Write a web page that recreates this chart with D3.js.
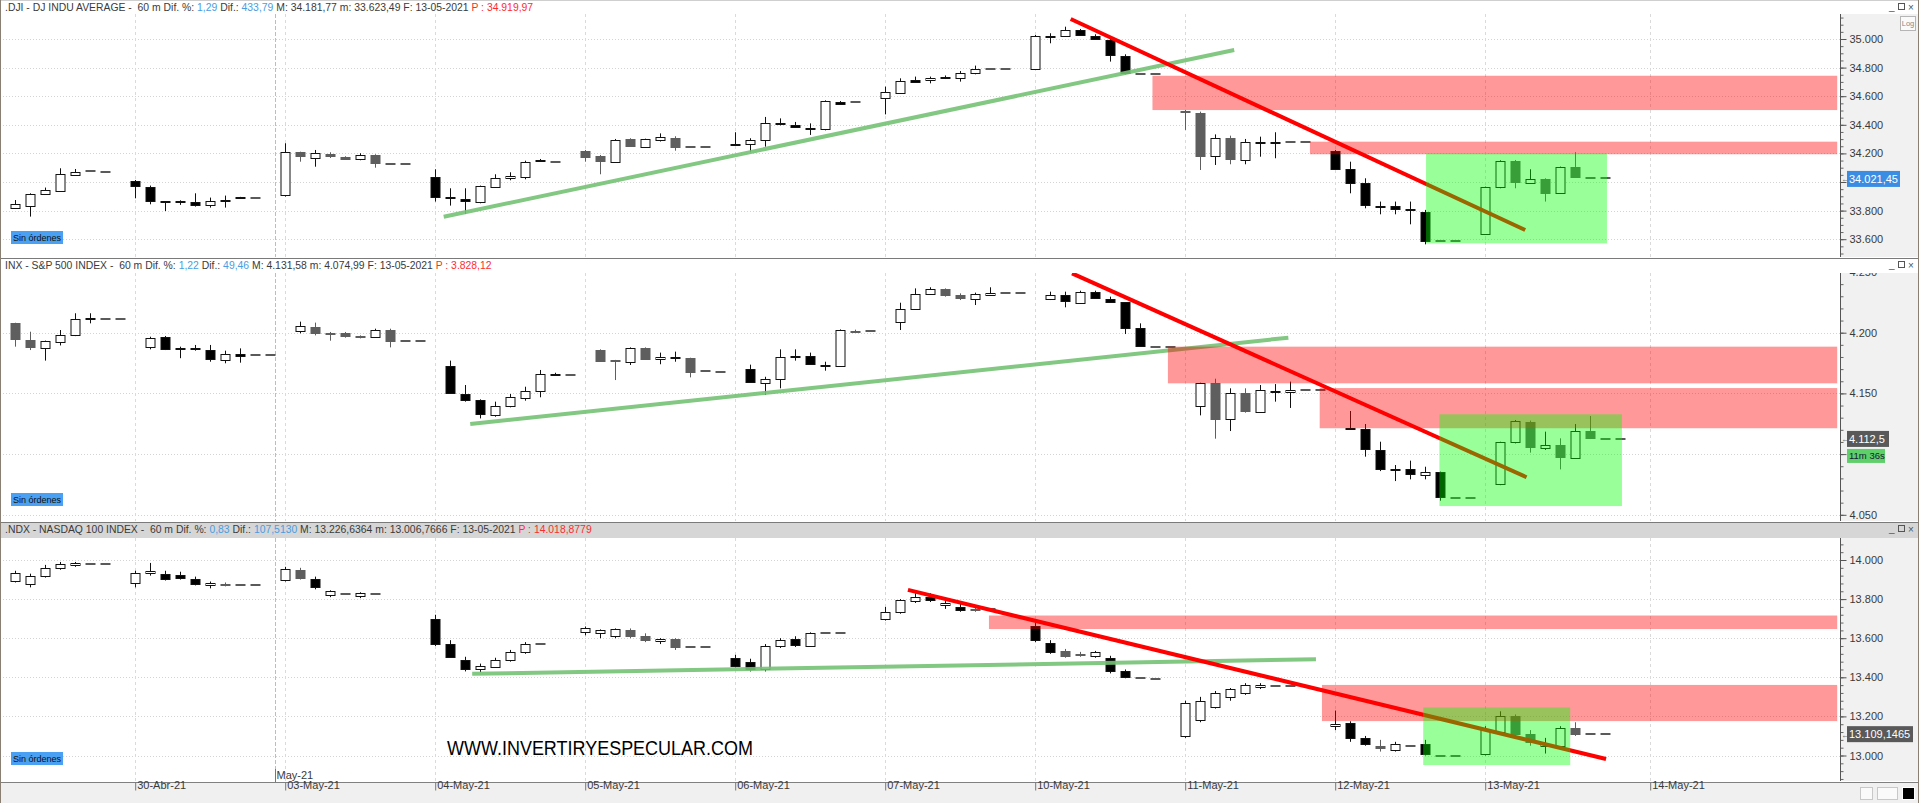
<!DOCTYPE html>
<html><head><meta charset="utf-8">
<script src="https://cdn.jsdelivr.net/npm/d3@7"></script>
<style>
body{margin:0;background:#fff;overflow:hidden}
svg text{font-family:"Liberation Sans",Arial,sans-serif}
</style></head>
<body><svg id="c" width="1919" height="803"></svg>
<script>
// ---------------- DATA ----------------
const dayLabels = ['30-Abr-21','03-May-21','04-May-21','05-May-21','06-May-21','07-May-21','10-May-21','11-May-21','12-May-21','13-May-21','14-May-21'];
const daySlots  = [10,20,30,40,50,60,70,80,90,100,111];
const monthLabel = 'May-21';
const monthSlot = 19.35;

// headers: [text, colourKey]
const djiHeader = [['.DJI - DJ INDU AVERAGE -  60 m Dif. %: ','t'],['1,29','b'],[' Dif.: ','t'],['433,79','b'],[' M: 34.181,77 m: 33.623,49 F: 13-05-2021 ','t'],['P : 34.919,97','r']];
const spxHeader = [['INX - S&P 500 INDEX -  60 m Dif. %: ','t'],['1,22','b'],[' Dif.: ','t'],['49,46','b'],[' M: 4.131,58 m: 4.074,99 F: 13-05-2021 ','t'],['P : 3.828,12','r']];
const ndxHeader = [['.NDX - NASDAQ 100 INDEX -  60 m Dif. %: ','t'],['0,83','b'],[' Dif.: ','t'],['107,5130','b'],[' M: 13.226,6364 m: 13.006,7666 F: 13-05-2021 ','t'],['P : 14.018,8779','r']];

// candles: [bar index, open, high, low, close, kind]  kind: w=up(hollow) b=down(black) g=down(grey) d=flat
const djiCandles = [
[2,33821,33874,33816,33844,'w'],[3,33835,33921,33758,33916,'w'],[4,33914,33961,33909,33944,'w'],[5,33937,34096,33933,34054,'w'],[6,34049,34091,34044,34072,'w'],[7,34077,34077,34077,34077,'d'],[8,34072,34072,34072,34072,'d'],
[10,34005,34014,33886,33972,'b'],[11,33968,33975,33844,33867,'b'],[12,33865,33867,33797,33862,'b'],[13,33864,33872,33840,33862,'b'],[14,33858,33921,33828,33837,'b'],[15,33839,33891,33821,33867,'w'],[16,33872,33905,33821,33875,'w'],[17,33896,33896,33890,33890,'b'],[18,33886,33886,33886,33886,'d'],
[20,33909,34271,33898,34208,'w'],[21,34208,34212,34142,34180,'g'],[22,34170,34224,34107,34201,'w'],[23,34198,34208,34168,34180,'g'],[24,34175,34180,34156,34163,'g'],[25,34159,34201,34152,34189,'w'],[26,34187,34194,34100,34131,'g'],[27,34126,34126,34126,34126,'d'],[28,34126,34126,34126,34126,'d'],
[30,34035,34089,33863,33893,'b'],[31,33893,33956,33835,33886,'b'],[32,33881,33956,33776,33867,'b'],[33,33858,33975,33851,33970,'w'],[34,33965,34054,33960,34028,'w'],[35,34026,34068,34012,34040,'w'],[36,34037,34149,34019,34142,'w'],[37,34154,34161,34142,34147,'b'],[38,34142,34142,34142,34142,'d'],
[40,34217,34224,34142,34177,'g'],[41,34182,34189,34054,34149,'g'],[42,34142,34301,34138,34296,'w'],[43,34299,34306,34245,34252,'g'],[44,34245,34303,34240,34299,'w'],[45,34294,34340,34283,34313,'w'],[46,34310,34320,34219,34243,'g'],[47,34243,34243,34243,34243,'d'],[48,34243,34243,34243,34243,'d'],
[50,34266,34348,34259,34259,'b'],[51,34264,34306,34208,34294,'w'],[52,34292,34455,34247,34410,'w'],[53,34415,34445,34396,34403,'b'],[54,34401,34420,34380,34383,'b'],[55,34376,34410,34329,34373,'b'],[56,34368,34571,34361,34567,'w'],[57,34562,34566,34545,34548,'b'],[58,34562,34562,34562,34562,'d'],
[60,34585,34667,34473,34627,'w'],[61,34625,34725,34620,34706,'w'],[62,34713,34737,34697,34702,'b'],[63,34713,34737,34690,34730,'w'],[64,34731,34745,34720,34729,'b'],[65,34725,34776,34702,34760,'w'],[66,34760,34814,34753,34790,'w'],[67,34788,34788,34788,34788,'d'],[68,34788,34788,34788,34788,'d'],
[70,34790,35028,34783,35021,'w'],[71,35020,35040,34970,35022,'w'],[72,35021,35086,35016,35063,'w'],[73,35063,35070,35023,35028,'b'],[74,35023,35033,34998,35000,'b'],[75,34993,35000,34842,34888,'b'],[76,34884,34893,34753,34760,'b'],[77,34755,34755,34755,34755,'d'],[78,34755,34755,34755,34755,'d'],
[80,34497,34504,34364,34487,'g'],[81,34485,34492,34084,34184,'g'],[82,34180,34333,34119,34310,'w'],[83,34310,34324,34124,34161,'g'],[84,34154,34301,34124,34282,'w'],[85,34279,34317,34177,34281,'w'],[86,34277,34348,34166,34279,'w'],[87,34278,34278,34278,34278,'d'],[88,34278,34278,34278,34278,'d'],
[90,34217,34224,34084,34089,'b'],[91,34089,34142,33921,33996,'b'],[92,33991,34026,33816,33837,'b'],[93,33832,33863,33774,33829,'b'],[94,33835,33863,33774,33811,'b'],[95,33808,33863,33704,33806,'b'],[96,33793,33805,33564,33590,'b'],[97,33590,33590,33590,33590,'d'],[98,33590,33590,33590,33590,'d'],
[100,33634,33968,33630,33963,'w'],[101,33963,34152,33956,34147,'w'],[102,34147,34154,33956,34002,'g'],[103,33996,34089,33991,34019,'w'],[104,34019,34026,33863,33926,'g'],[105,33921,34108,33916,34103,'w'],[106,34103,34208,34033,34038,'g'],[107,34028,34028,34028,34028,'d'],[108,34028,34028,34028,34028,'d']
];
const spxCandles = [
[2,4207.7,4208.2,4188.5,4194.5,'g'],[3,4194,4200.8,4185.7,4188.5,'g'],[4,4187.1,4193.5,4177,4192.9,'w'],[5,4192.3,4202.2,4189.5,4197.8,'w'],[6,4197.8,4216,4197.2,4211.6,'w'],[7,4211.4,4216,4207.7,4211.8,'w'],[8,4211.6,4211.6,4211.6,4211.6,'d'],[9,4211.6,4211.6,4211.6,4211.6,'d'],
[11,4188.5,4196.7,4186.3,4195.9,'w'],[12,4196.7,4197.3,4185.7,4186.8,'b'],[13,4187.3,4188.5,4179,4186.8,'b'],[14,4187.3,4189.9,4185.2,4186.8,'b'],[15,4185.7,4189.9,4176.1,4178.6,'b'],[16,4177.5,4185.2,4174.8,4182.2,'w'],[17,4182.2,4187.1,4175.3,4180.8,'b'],[18,4181.6,4181.6,4181.6,4181.6,'d'],[19,4181.4,4181.4,4181.4,4181.4,'d'],
[21,4201.7,4209.1,4199.5,4205.5,'w'],[22,4204.4,4208.3,4197.8,4199.5,'g'],[23,4199.9,4200.6,4193.4,4199.7,'g'],[24,4200,4200.6,4195.9,4197.3,'g'],[25,4196.9,4197.8,4195.3,4196.7,'g'],[26,4196.7,4203.3,4196.2,4202.2,'w'],[27,4202.2,4203.3,4187.9,4193.4,'g'],[28,4192.9,4192.9,4192.9,4192.9,'d'],[29,4192.9,4192.9,4192.9,4192.9,'d'],
[31,4172.6,4177,4149.5,4150,'b'],[32,4149.5,4156.9,4143.2,4144.6,'b'],[33,4144.6,4145.1,4129.4,4133,'b'],[34,4131.9,4143.2,4130.8,4139.6,'w'],[35,4139.6,4149.5,4138.5,4146.8,'w'],[36,4146.5,4155.5,4144,4152.2,'w'],[37,4152.2,4169.3,4146.8,4165.7,'w'],[38,4166,4167,4165,4165.4,'b'],[39,4164.9,4164.9,4164.9,4164.9,'d'],
[41,4185.5,4186.3,4176.1,4177,'g'],[42,4177.3,4177.6,4161,4177,'g'],[43,4175.9,4187.9,4173.4,4187.4,'w'],[44,4187.4,4187.9,4178,4178.6,'g'],[45,4178.1,4183.6,4174,4180.3,'w'],[46,4179.5,4184.4,4176.1,4179.9,'w'],[47,4178.9,4179.4,4163.2,4167.9,'g'],[48,4168.4,4168.4,4168.4,4168.4,'d'],[49,4167.9,4167.9,4167.9,4167.9,'d'],
[51,4169.8,4173.7,4159,4159.4,'b'],[52,4158.8,4163.7,4148.7,4162.1,'w'],[53,4162.1,4186.3,4154.2,4179.7,'w'],[54,4180.5,4186.3,4177,4179.9,'b'],[55,4180.8,4183.6,4173.4,4174,'b'],[56,4173.4,4176.1,4168.7,4173.1,'b'],[57,4172.6,4202.7,4172,4202.2,'w'],[58,4201.7,4202.5,4199.8,4200.3,'g'],[59,4201.7,4201.7,4201.7,4201.7,'d'],
[61,4209.1,4224.7,4202.2,4219.2,'w'],[62,4219.2,4236.5,4218.7,4231.9,'w'],[63,4231.9,4237.4,4231.3,4236,'w'],[64,4236,4236.5,4229.7,4231,'g'],[65,4231,4232.4,4226.9,4228.6,'g'],[66,4227.5,4233,4222.8,4231.9,'w'],[67,4231.3,4237.4,4230.8,4233,'w'],[68,4232.4,4232.4,4232.4,4232.4,'d'],[69,4232.4,4232.4,4232.4,4232.4,'d'],
[71,4228,4233.8,4226.9,4230.8,'w'],[72,4230.8,4233.8,4220.9,4225.8,'b'],[73,4224.7,4234.6,4224.2,4233.5,'w'],[74,4233.5,4234.6,4228,4228.6,'b'],[75,4228,4229.7,4224.7,4225.3,'b'],[76,4225,4225.3,4198.9,4203.9,'b'],[77,4203.6,4207.7,4188.5,4189,'b'],[78,4188.5,4188.5,4188.5,4188.5,'d'],[79,4188.5,4188.5,4188.5,4188.5,'d'],
[81,4139.6,4158.8,4131.9,4158.3,'w'],[82,4158.3,4162.1,4112.7,4129.2,'g'],[83,4128.6,4154.2,4119,4150.6,'w'],[84,4150.6,4154.2,4134.1,4135.8,'g'],[85,4135,4156.9,4134.4,4152.8,'w'],[86,4152,4157.7,4143.2,4151.8,'w'],[87,4150.9,4159.7,4138,4152.8,'w'],[88,4152.8,4152.8,4152.8,4152.8,'d'],[89,4152.8,4152.8,4152.8,4152.8,'d'],
[91,4121.2,4135.5,4120.4,4120.9,'b'],[92,4120.4,4124.8,4097.9,4104.2,'b'],[93,4103.4,4110.2,4086,4087.4,'b'],[94,4087.7,4091,4077.8,4087.4,'b'],[95,4087.7,4094.6,4079.2,4083.3,'b'],[96,4082.8,4089.6,4079.2,4085.3,'w'],[97,4085,4085.6,4061.6,4064.4,'b'],[98,4063.8,4063.8,4063.8,4063.8,'d'],[99,4063.5,4063.5,4063.5,4063.5,'d'],
[101,4075.3,4110.2,4074.4,4109.7,'w'],[102,4109.7,4128.1,4108.8,4127.3,'w'],[103,4126.7,4127.6,4101.2,4105.6,'g'],[104,4105,4118.5,4103.4,4107.5,'w'],[105,4107.5,4113,4087.4,4097.9,'g'],[106,4097.1,4124.8,4096.5,4119.3,'w'],[107,4119.3,4131.4,4112.4,4113,'g'],[108,4112.4,4112.4,4112.4,4112.4,'d'],[109,4112.4,4112.4,4112.4,4112.4,'d']
];
const ndxCandles = [
[2,13891,13945,13885,13935,'w'],[3,13875,13930,13860,13920,'w'],[4,13920,13975,13910,13960,'w'],[5,13960,13990,13950,13980,'w'],[6,13975,13990,13965,13985,'w'],[7,13978,13978,13978,13978,'d'],[8,13978,13978,13978,13978,'d'],
[10,13880,13945,13860,13935,'w'],[11,13935,13985,13920,13945,'w'],[12,13930,13945,13895,13905,'b'],[13,13925,13940,13900,13910,'b'],[14,13905,13915,13870,13875,'b'],[15,13870,13890,13855,13880,'w'],[16,13878,13885,13865,13870,'g'],[17,13870,13870,13870,13870,'d'],[18,13870,13870,13870,13870,'d'],
[20,13900,13965,13890,13955,'w'],[21,13950,13960,13900,13910,'g'],[22,13905,13915,13850,13860,'b'],[23,13820,13845,13810,13840,'w'],[24,13825,13825,13825,13825,'d'],[25,13815,13835,13805,13830,'w'],[26,13828,13828,13828,13828,'d'],
[30,13700,13720,13560,13570,'b'],[31,13570,13590,13500,13505,'b'],[32,13490,13505,13430,13440,'b'],[33,13440,13470,13425,13460,'w'],[34,13455,13500,13450,13490,'w'],[35,13490,13540,13480,13530,'w'],[36,13530,13580,13520,13570,'w'],[37,13572,13572,13572,13572,'d'],
[40,13630,13660,13615,13650,'w'],[41,13625,13645,13600,13640,'w'],[42,13610,13650,13600,13645,'w'],[43,13640,13650,13600,13610,'g'],[44,13610,13625,13580,13590,'g'],[45,13585,13600,13570,13595,'w'],[46,13595,13600,13540,13555,'g'],[47,13555,13555,13555,13555,'d'],[48,13555,13555,13555,13555,'d'],
[50,13500,13515,13450,13460,'b'],[51,13480,13495,13430,13440,'b'],[52,13440,13570,13430,13560,'w'],[53,13560,13600,13550,13590,'w'],[54,13595,13610,13555,13565,'b'],[55,13560,13630,13555,13625,'w'],[56,13625,13625,13625,13625,'d'],[57,13625,13625,13625,13625,'d'],
[60,13700,13760,13690,13735,'w'],[61,13735,13800,13725,13795,'w'],[62,13790,13830,13780,13810,'w'],[63,13812,13830,13785,13795,'b'],[64,13770,13790,13750,13780,'w'],[65,13760,13775,13735,13745,'b'],[66,13745,13760,13735,13748,'g'],[67,13748,13748,13748,13748,'d'],
[70,13660,13680,13580,13590,'b'],[71,13575,13590,13520,13530,'b'],[72,13535,13545,13500,13510,'g'],[73,13520,13530,13505,13515,'g'],[74,13510,13535,13500,13530,'w'],[75,13500,13510,13420,13430,'b'],[76,13430,13440,13395,13400,'b'],[77,13398,13398,13398,13398,'d'],[78,13390,13390,13390,13390,'d'],
[80,13100,13280,13090,13270,'w'],[81,13180,13300,13170,13280,'w'],[82,13250,13330,13240,13320,'w'],[83,13300,13345,13280,13340,'w'],[84,13320,13370,13310,13360,'w'],[85,13350,13370,13340,13360,'w'],[86,13355,13355,13355,13355,'d'],[87,13355,13355,13355,13355,'d'],
[90,13150,13230,13130,13160,'w'],[91,13165,13175,13070,13090,'b'],[92,13090,13100,13050,13060,'b'],[93,13050,13080,13020,13040,'g'],[94,13030,13070,13020,13060,'w'],[95,13050,13050,13050,13050,'d'],[96,13060,13080,13000,13010,'b'],[97,13000,13000,13000,13000,'d'],[98,13000,13000,13000,13000,'d'],
[100,13010,13150,13000,13130,'w'],[101,13120,13226,13110,13200,'w'],[102,13200,13210,13090,13110,'g'],[103,13110,13130,13050,13070,'g'],[104,13060,13090,13010,13050,'w'],[105,13050,13150,13040,13140,'w'],[106,13140,13170,13100,13110,'g'],[107,13109,13109,13109,13109,'d'],[108,13109,13109,13109,13109,'d']
];

// axis tick values
const djiTicks = [35200,35000,34800,34600,34400,34200,34000,33800,33600];
const spxTicks = [4250,4200,4150,4100,4050];
const ndxTicks = [14000,13800,13600,13400,13200,13000];

// drawn objects: lines [slot1, price1, slot2, price2]; zones [slotFrom, slotTo, priceTop, priceBottom]
const djiGreenLine = [30.6,33757,83.3,34923];
const djiRedLine   = [72.4,35140,102.7,33664];
const djiRedZones  = [[77.85,123.5,34743,34503],[88.35,123.5,34282,34194]];
const djiGreenBox  = [96.09,108.15,34201,33571];
const spxGreenLine = [32.37,4124.8,86.91,4195.9];
const spxRedLine   = [72.49,4248.9,102.79,4080.9];
const spxRedZones  = [[78.88,123.5,4188.5,4158.3],[89.0,123.5,4154.4,4121.3]];
const spxGreenBox  = [96.98,109.15,4132.8,4057.2];
const ndxGreenLine = [32.5,13418,88.75,13492];
const ndxRedLine   = [61.55,13847,108.09,12982];
const ndxRedZones  = [[66.95,123.5,13716,13647],[89.15,123.5,13361,13176]];
const ndxGreenBox  = [95.9,105.7,13246,12951];

const lastPrices = [34021.45, 4112.5, 13109.1465];
const timerText = '11m 36s';
const ordersText = 'Sin órdenes';
const watermark = 'WWW.INVERTIRYESPECULAR.COM';

// ---------------- DRAW ----------------
const loc = d3.formatLocale({decimal:",",thousands:".",grouping:[3],currency:["",""]});
const svg = d3.select('#c');
const defs = svg.append('defs');
svg.append('rect').attr('width',1919).attr('height',803).attr('fill','#fff');

const x = d3.scaleLinear().domain([10,100]).range([134.7,1484.7]);
const AX = 1840;
const hdrCol = {t:'#3a3a3a', b:'#4a9de0', r:'#ff2b2b'};

const panels = [
 {header:djiHeader, candles:djiCandles, ticks:djiTicks, minor:50, top:0, pt:14, pb:257, dom:[35000,33600], rng:[39,239.2],
  gl:djiGreenLine, rl:djiRedLine, rz:djiRedZones, gb:djiGreenBox, price:lastPrices[0], pf:',.2f', pbox:'#3b8de3', pw:53, hbg:'#ffffff', orderY:231},
 {header:spxHeader, candles:spxCandles, ticks:spxTicks, minor:10, top:258, pt:273, pb:521, dom:[4200,4050], rng:[332.7,514.8],
  gl:spxGreenLine, rl:spxRedLine, rz:spxRedZones, gb:spxGreenBox, price:lastPrices[1], pf:',.1f', pbox:'#595959', pw:42, hbg:'#ffffff', orderY:493, timer:true},
 {header:ndxHeader, candles:ndxCandles, ticks:ndxTicks, minor:40, top:522, pt:538, pb:781, dom:[14000,13000], rng:[560,755.5],
  gl:ndxGreenLine, rl:ndxRedLine, rz:ndxRedZones, gb:ndxGreenBox, price:lastPrices[2], pf:',.4f', pbox:'#595959', pw:66, hbg:'#d6d6d6', orderY:752}
];

panels.forEach((P,i)=>{
  const y = d3.scaleLinear().domain(P.dom).range(P.rng);
  const g = svg.append('g');
  // header
  g.append('rect').attr('x',0).attr('y',P.top).attr('width',1919).attr('height',P.pt-P.top).attr('fill',P.hbg);
  g.append('line').attr('x1',0).attr('x2',1919).attr('y1',P.top+0.5).attr('y2',P.top+0.5).attr('stroke', i? '#7a7a7a':'#cfcfcf');
  const ht = g.append('text').attr('x',5).attr('y',P.top+11).attr('font-size',10.4).attr('xml:space','preserve').style('white-space','pre');
  P.header.forEach(([t,c])=>ht.append('tspan').attr('fill',hdrCol[c]).text(t));
  // window controls
  g.append('text').attr('x',1889).attr('y',P.top+10).attr('font-size',10).attr('fill','#555').text('_');
  g.append('rect').attr('x',1898.5).attr('y',P.top+3.5).attr('width',6).attr('height',6).attr('fill','none').attr('stroke','#555');
  g.append('text').attr('x',1908).attr('y',P.top+10.5).attr('font-size',10).attr('fill','#555').text('×');

  defs.append('clipPath').attr('id','cp'+i).append('rect').attr('x',0).attr('y',P.pt).attr('width',AX).attr('height',P.pb-P.pt);
  const pg = g.append('g').attr('clip-path',`url(#cp${i})`);

  // grid
  P.ticks.forEach(t=>{ const yy=Math.round(y(t))+0.5;
    pg.append('line').attr('x1',0).attr('x2',AX).attr('y1',yy).attr('y2',yy).attr('stroke','#d4d4d4').attr('stroke-dasharray','1,2'); });
  daySlots.forEach(s=>{ const xx=Math.round(x(s))+0.5;
    pg.append('line').attr('x1',xx).attr('x2',xx).attr('y1',P.pt).attr('y2',P.pb).attr('stroke','#dadada').attr('stroke-dasharray','3,3'); });
  const mx = Math.round(x(monthSlot))+0.5;
  pg.append('line').attr('x1',mx).attr('x2',mx).attr('y1',P.pt).attr('y2',P.pb).attr('stroke','#bdbdbd').attr('stroke-dasharray','4,2');

  // candles
  const fill = {w:'#ffffff', b:'#000000', g:'#5e5e5e'};
  P.candles.forEach(([s,o,h,l,c,k])=>{
    const cx = Math.round(x(s))+0.5;
    if(k==='d'){ const yy=Math.round(y(o));
      pg.append('line').attr('x1',cx-5).attr('x2',cx+5).attr('y1',yy).attr('y2',yy).attr('stroke','#5a5a5a').attr('stroke-width',2); return; }
    const sc = k==='g' ? '#5e5e5e' : '#111';
    pg.append('line').attr('x1',cx).attr('x2',cx).attr('y1',y(h)).attr('y2',y(l)).attr('stroke',sc);
    const y0 = Math.round(y(Math.max(o,c))), y1 = Math.round(y(Math.min(o,c)));
    pg.append('rect').attr('x',cx-4.5).attr('y',y0+0.5).attr('width',9).attr('height',Math.max(1,y1-y0))
      .attr('fill',fill[k]).attr('stroke',sc);
  });

  // green trend line
  pg.append('line').attr('x1',x(P.gl[0])).attr('y1',y(P.gl[1])).attr('x2',x(P.gl[2])).attr('y2',y(P.gl[3]))
    .attr('stroke','#74c174').attr('stroke-width',4).attr('stroke-opacity',0.9);
  // red zones
  P.rz.forEach(z=>pg.append('rect').attr('x',x(z[0])).attr('y',y(z[2])).attr('width',x(z[1])-x(z[0])).attr('height',y(z[3])-y(z[2]))
    .attr('fill','#ff0000').attr('fill-opacity',0.4));
  // red line
  pg.append('line').attr('x1',x(P.rl[0])).attr('y1',y(P.rl[1])).attr('x2',x(P.rl[2])).attr('y2',y(P.rl[3]))
    .attr('stroke','#ff0000').attr('stroke-width',4);
  // green box
  pg.append('rect').attr('x',x(P.gb[0])).attr('y',y(P.gb[2])).attr('width',x(P.gb[1])-x(P.gb[0])).attr('height',y(P.gb[3])-y(P.gb[2]))
    .attr('fill','#00ff00').attr('fill-opacity',0.4);

  // "Sin órdenes"
  g.append('rect').attr('x',11).attr('y',P.orderY).attr('width',52).attr('height',13).attr('fill','#4aa0f2');
  g.append('text').attr('x',37).attr('y',P.orderY+9.5).attr('text-anchor','middle').attr('font-size',9).attr('fill','#111').text(ordersText);

  // price axis
  const ag = g.append('g');
  ag.append('rect').attr('x',AX).attr('y',P.pt).attr('width',1919-AX).attr('height',P.pb-P.pt).attr('fill','#f1f1f1');
  defs.append('clipPath').attr('id','ca'+i).append('rect').attr('x',AX).attr('y',P.pt).attr('width',1919-AX).attr('height',P.pb-P.pt);
  const axc = ag.append('g').attr('clip-path',`url(#ca${i})`);
  const lo = Math.min(...P.dom)-P.minor*20, hi = Math.max(...P.dom)+P.minor*20;
  const minorVals = d3.range(Math.ceil(lo/P.minor)*P.minor, hi, P.minor);
  axc.append('g').attr('transform',`translate(${AX+0.5},0)`).call(d3.axisRight(y).tickValues(minorVals).tickSize(3).tickFormat(''))
    .call(s=>s.select('.domain').remove()).selectAll('line').attr('stroke','#666');
  const py = y(P.price);
  const boxes = [py]; if(P.timer) boxes.push(py+17);
  const major = axc.append('g').attr('transform',`translate(${AX+0.5},0)`)
    .call(d3.axisRight(y).tickValues(P.ticks).tickSize(6).tickPadding(3).tickFormat(loc.format(',.0f')));
  major.select('.domain').remove();
  major.selectAll('line').attr('stroke','#555');
  major.selectAll('text').attr('font-size',11).attr('fill','#3a3a3a').attr('font-family','"Liberation Sans",Arial,sans-serif')
    .style('display',d=> boxes.some(b=>Math.abs(y(d)-b)<11)?'none':null);
  ag.append('line').attr('x1',AX+0.5).attr('x2',AX+0.5).attr('y1',P.pt).attr('y2',P.pb).attr('stroke','#555');
  // last price marker
  ag.append('text').attr('x',AX+1).attr('y',py+3.5).attr('font-size',9).attr('fill','#777').text('←');
  ag.append('rect').attr('x',AX+7).attr('y',py-8).attr('width',P.pw).attr('height',16).attr('fill',P.pbox);
  ag.append('text').attr('x',AX+9).attr('y',py+4).attr('font-size',11).attr('fill','#fff').text(loc.format(P.pf)(P.price));
  if(P.timer){
    ag.append('rect').attr('x',AX+7).attr('y',py+10).attr('width',38).attr('height',14).attr('fill','#5fcf6a');
    ag.append('text').attr('x',AX+9).attr('y',py+20.5).attr('font-size',9.5).attr('fill','#123').text(timerText);
  }
  if(i===0){
    ag.append('rect').attr('x',1900.5).attr('y',16.5).attr('width',15).attr('height',14).attr('fill','#fafafa').attr('stroke','#b5b5b5');
    ag.append('text').attr('x',1908).attr('y',26).attr('text-anchor','middle').attr('font-size',7.5).attr('fill','#888').text('Log');
  }
  if(i===2){
    g.append('text').attr('x',447).attr('y',755).attr('font-size',20).attr('fill','#000')
      .attr('textLength',306).attr('lengthAdjust','spacingAndGlyphs').text(watermark);
  }
});

// bottom time axis
const bg = svg.append('g');
bg.append('rect').attr('x',0).attr('y',782).attr('width',1919).attr('height',21).attr('fill','#f0f0f0');
bg.append('line').attr('x1',0).attr('x2',1919).attr('y1',782.5).attr('y2',782.5).attr('stroke','#808080');
const tAx = bg.append('g').attr('transform','translate(0,782.5)')
  .call(d3.axisBottom(x).tickValues(daySlots).tickSize(8).tickPadding(0).tickFormat((d,i)=>dayLabels[i]));
tAx.select('.domain').remove();
tAx.selectAll('line').attr('stroke','#777').attr('transform','translate(0.5,0)');
tAx.selectAll('text').attr('text-anchor','start').attr('dx',2).attr('dy','0.2em').attr('y',4)
  .attr('font-size',11).attr('fill','#3a3a3a').attr('font-family','"Liberation Sans",Arial,sans-serif');
const mxx = Math.round(x(monthSlot))+0.5;
bg.append('line').attr('x1',mxx).attr('x2',mxx).attr('y1',769).attr('y2',782).attr('stroke','#777');
bg.append('text').attr('x',mxx+1).attr('y',779).attr('font-size',11).attr('fill','#3a3a3a').text(monthLabel);
// icons bottom right
bg.append('rect').attr('x',1860.5).attr('y',787.5).attr('width',12).attr('height',12).attr('fill','#fafafa').attr('stroke','#c8c8c8');
bg.append('rect').attr('x',1877.5).attr('y',787.5).attr('width',20).attr('height',12).attr('fill','#fafafa').attr('stroke','#c8c8c8');
bg.append('rect').attr('x',1902.5).attr('y',787.5).attr('width',12).attr('height',12).attr('fill','#000').attr('stroke','#fff');
// frame edges
svg.append('line').attr('x1',0.5).attr('x2',0.5).attr('y1',0).attr('y2',803).attr('stroke','#8a7f73');
svg.append('line').attr('x1',1918.5).attr('x2',1918.5).attr('y1',0).attr('y2',803).attr('stroke','#8a7f73');
</script></body></html>
